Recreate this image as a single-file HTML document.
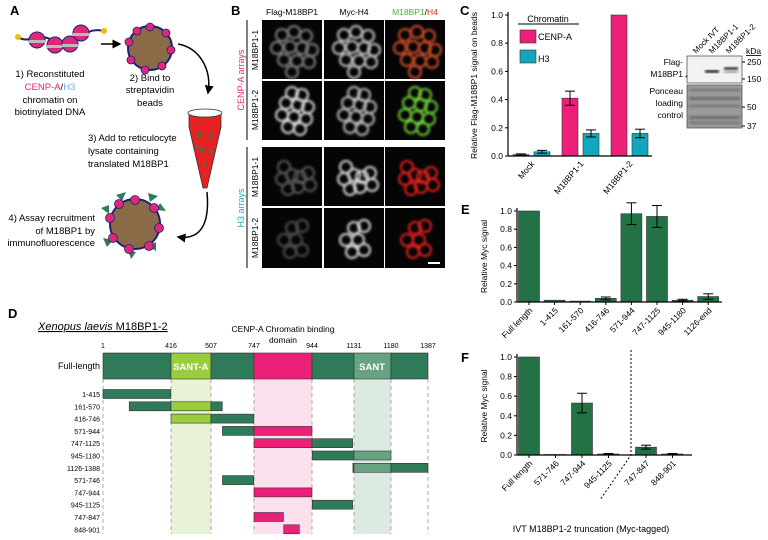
<!DOCTYPE html>
<html><head><meta charset="utf-8"><style>
html,body{margin:0;padding:0;background:#fff;}
svg{display:block;font-family:"Liberation Sans",sans-serif;}
</style></head><body>
<svg id="fig" width="768" height="540" viewBox="0 0 768 540" xmlns="http://www.w3.org/2000/svg">
<defs>
<filter id="blur1"><feGaussianBlur stdDeviation="1.2"/></filter>
<marker id="ah" markerWidth="6" markerHeight="6" refX="5" refY="3" orient="auto"><path d="M0,0 L6,3 L0,6 z" fill="#000"/></marker>
</defs>

<g font-weight="bold" font-size="13">
<text x="10" y="15">A</text><text x="231" y="15">B</text><text x="460" y="15">C</text>
<text x="8" y="318">D</text><text x="461" y="214">E</text><text x="461" y="362">F</text>
</g>

<!-- Panel A -->
<g id="panelA">
 <path d="M18,37 C30,45 40,30 55,42 S80,25 104,31" fill="none" stroke="#1e2270" stroke-width="2"/>
 <circle cx="18" cy="37" r="3" fill="#f5b800"/>
 <circle cx="104" cy="31" r="3" fill="#f5b800"/>
 <g>
  <circle cx="37" cy="40" r="8" fill="#e0287a" stroke="#1e2270"/><rect x="29" y="40" width="16" height="3" fill="#bbb"/>
  <circle cx="55" cy="45" r="8" fill="#e0287a" stroke="#1e2270"/><rect x="47" y="45" width="16" height="3" fill="#bbb"/>
  <circle cx="70" cy="44" r="8" fill="#e0287a" stroke="#1e2270"/><rect x="62" y="44" width="16" height="3" fill="#bbb"/>
  <circle cx="81" cy="33" r="8" fill="#e0287a" stroke="#1e2270"/><rect x="73" y="33" width="16" height="3" fill="#bbb"/>
 </g>
 <line x1="101" y1="44" x2="120" y2="44" stroke="#000" stroke-width="1.5" marker-end="url(#ah)"/>
 <g>
  <circle cx="150" cy="48" r="22" fill="#8b6a48" stroke="#1e2270" stroke-width="2"/>
  <g fill="#e0287a" stroke="#1e2270" stroke-width="0.8">
   <circle cx="150" cy="27" r="4"/><circle cx="166" cy="33" r="4"/><circle cx="171" cy="50" r="4"/><circle cx="162" cy="66" r="4"/><circle cx="145" cy="70" r="4"/><circle cx="131" cy="60" r="4"/><circle cx="129" cy="42" r="4"/><circle cx="137" cy="31" r="4"/>
  </g>
 </g>
 <path d="M178,44 C200,48 212,70 208,93" fill="none" stroke="#000" stroke-width="1.5" marker-end="url(#ah)"/>
 <g font-size="9.5" text-anchor="middle">
  <text x="50" y="77">1) Reconstituted</text>
  <text x="50" y="90"><tspan fill="#e0287a">CENP-A</tspan>/<tspan fill="#7aa8e0">H3</tspan></text>
  <text x="50" y="103">chromatin on</text>
  <text x="50" y="115">biotinylated DNA</text>
 </g>
 <g font-size="9.5" text-anchor="middle">
  <text x="150" y="81">2) Bind to</text><text x="150" y="93">streptavidin</text><text x="150" y="106">beads</text>
 </g>
 <g>
  <path d="M189,113 L221,113 L221,127 L207,188 L203,188 L189,127 Z" fill="#e52222" stroke="#333" stroke-width="0.8"/>
  <ellipse cx="205" cy="113" rx="17" ry="4" fill="#fff" stroke="#333" stroke-width="0.8"/>
  <g fill="#2e7d5a"><path d="M197,132 l6,2 l-5,4z"/><path d="M208,135 l6,-1 l-3,5z"/><path d="M201,147 l5,3 l-6,2z"/><path d="M210,150 l4,3 l-5,1z"/><path d="M203,162 l4,2 l-4,3z"/><path d="M196,145 l4,1 l-3,4z"/></g>
 </g>
 <g font-size="9.5">
  <text x="88" y="141">3) Add to reticulocyte</text><text x="88" y="154">lysate containing</text><text x="88" y="167">translated M18BP1</text>
 </g>
 <path d="M207,192 C210,225 200,240 178,237" fill="none" stroke="#000" stroke-width="1.5" marker-end="url(#ah)"/>
 <g>
  <circle cx="135" cy="224" r="25" fill="#8b6a48" stroke="#1e2270" stroke-width="2"/>
  <g fill="#2e7d5a"><path d="M116,195 l10,-3 l-4,9z"/><path d="M148,193 l10,3 l-8,6z"/><path d="M160,203 l6,8 l-10,-1z"/><path d="M101,208 l8,-3 l0,9z"/><path d="M103,238 l10,2 l-6,7z"/><path d="M148,246 l8,-4 l0,9z"/><path d="M128,250 l8,2 l-5,7z"/></g>
  <g fill="#e0287a" stroke="#1e2270" stroke-width="0.8">
   <circle cx="135" cy="200" r="4.5"/><circle cx="154" cy="208" r="4.5"/><circle cx="159" cy="228" r="4.5"/><circle cx="149" cy="246" r="4.5"/><circle cx="129" cy="249" r="4.5"/><circle cx="113" cy="238" r="4.5"/><circle cx="110" cy="218" r="4.5"/><circle cx="119" cy="204" r="4.5"/>
  </g>
 </g>
 <g font-size="9.5" text-anchor="end">
  <text x="95" y="221">4) Assay recruitment</text><text x="95" y="234">of M18BP1 by</text><text x="95" y="246">immunofluorescence</text>
 </g>
</g>

<!-- Panel B -->
<g id="panelB">
 <g font-size="8.5" text-anchor="middle">
  <text x="292" y="15">Flag-M18BP1</text><text x="354" y="15">Myc-H4</text>
  <text x="415" y="15"><tspan fill="#3cb83c">M18BP1</tspan>/<tspan fill="#e52222">H4</tspan></text>
 </g>
 <line x1="247" y1="20" x2="247" y2="140" stroke="#000"/>
 <line x1="247" y1="147" x2="247" y2="268" stroke="#000"/>
 <text transform="translate(244,80) rotate(-90)" font-size="9" fill="#e0287a" text-anchor="middle">CENP-A arrays</text>
 <text transform="translate(244,208) rotate(-90)" font-size="9" fill="#1ab0c8" text-anchor="middle">H3 arrays</text>
 <g font-size="8.5" text-anchor="middle">
  <text transform="translate(258,50) rotate(-90)">M18BP1-1</text>
  <text transform="translate(258,110) rotate(-90)">M18BP1-2</text>
  <text transform="translate(258,177) rotate(-90)">M18BP1-1</text>
  <text transform="translate(258,238) rotate(-90)">M18BP1-2</text>
 </g>
 <g id="micro"></g>
 <rect x="428" y="262" width="12" height="2" fill="#fff"/>
</g>

<g id="panelC"></g>
<g>
 <rect x="687" y="56" width="55" height="27" fill="#f2f2f2" stroke="#555" stroke-width="0.8"/>
 <rect x="705" y="70" width="14" height="3" fill="#222" filter="url(#blur1)"/>
 <rect x="724" y="67" width="14" height="3" fill="#333" filter="url(#blur1)"/>
 <rect x="724" y="71" width="14" height="2" fill="#888" filter="url(#blur1)"/>
 <rect x="687" y="85" width="55" height="43" fill="#9c9c9c" stroke="#555" stroke-width="0.8"/>
 <g fill="#6a6a6a" filter="url(#blur1)"><rect x="689" y="89" width="51" height="2"/><rect x="689" y="97" width="51" height="3"/><rect x="689" y="105" width="51" height="2"/><rect x="689" y="116" width="51" height="3"/><rect x="689" y="122" width="51" height="2"/></g>
 <g font-size="8" text-anchor="start">
  <text transform="translate(696,54) rotate(-45)">Mock IVT</text>
  <text transform="translate(712,54) rotate(-45)">M18BP1-1</text>
  <text transform="translate(729,54) rotate(-45)">M18BP1-2</text>
 </g>
 <g font-size="8.5" text-anchor="end"><text x="683" y="65">Flag-</text><text x="683" y="77">M18BP1</text><text x="683" y="94">Ponceau</text><text x="683" y="106">loading</text><text x="683" y="118">control</text></g>
 <text x="685" y="80" font-size="7">*</text>
 <g font-size="8.5"><text x="746" y="54" text-decoration="underline">kDa</text><text x="747" y="65">250</text><text x="747" y="82">150</text><text x="747" y="110">50</text><text x="747" y="129">37</text></g>
 <g stroke="#000"><line x1="742" y1="62" x2="745" y2="62"/><line x1="742" y1="79" x2="745" y2="79"/><line x1="742" y1="107" x2="745" y2="107"/><line x1="742" y1="126" x2="745" y2="126"/></g>
</g>

<g id="panelD"></g>
<g id="panelE"></g>
<g id="panelF"></g>
</svg>

<script>
// ---------- Panel C data ----------
const cCategories = ["Mock", "M18BP1-1", "M18BP1-2"];
const cCenpA = [0.01, 0.41, 1.0];
const cCenpAErr = [0.005, 0.05, 0];
const cH3 = [0.03, 0.16, 0.16];
const cH3Err = [0.01, 0.025, 0.03];
const cTicks = [0, 0.2, 0.4, 0.6, 0.8, 1.0];

// ---------- Panel E data ----------
const eCategories = ["Full length","1-415","161-570","416-746","571-944","747-1125","945-1180","1126-end"];
const eValues = [1.0, 0.02, 0.01, 0.04, 0.97, 0.94, 0.02, 0.06];
const eErrors = [0, 0, 0, 0.015, 0.12, 0.12, 0.01, 0.03];
const eTicks = [0, 0.2, 0.4, 0.6, 0.8, 1.0];

// ---------- Panel F data ----------
const fCategories = ["Full length","571-746","747-944","945-1125","747-847","848-901"];
const fValues = [1.0, 0.005, 0.53, 0.01, 0.08, 0.01];
const fErrors = [0, 0, 0.1, 0.005, 0.02, 0.005];
const fTicks = [0, 0.2, 0.4, 0.6, 0.8, 1.0];

// ---------- Panel D data ----------
const dBoundaries = [1, 416, 507, 747, 944, 1131, 1180, 1387];
const dConstructs = ["1-415","161-570","416-746","571-944","747-1125","945-1180","1126-1388","571-746","747-944","945-1125","747-847","848-901"];
const dStarts = [1,161,416,571,747,945,1126,571,747,945,747,848];
const dEnds = [415,570,746,944,1125,1180,1388,746,944,1125,847,901];

const NS = "http://www.w3.org/2000/svg";
function mk(parent, tag, attrs, text) {
  const el = document.createElementNS(NS, tag);
  for (const k in attrs) el.setAttribute(k, attrs[k]);
  if (text !== undefined) el.textContent = text;
  parent.appendChild(el);
  return el;
}

(function(){
  const g = document.getElementById("micro");
  const cols = [[262,322],[324,384],[385,445]];
  const rows = [[20,79],[81,140],[147,206],[208,268]];
  const bright = [[0.45,0.8],[0.9,0.75],[0.25,0.9],[0.2,0.9]];
  const ringSets = [
    [[20,15],[32,12],[44,16],[15,28],[28,27],[40,28],[50,30],[22,40],[35,41],[47,42],[30,52]],
    [[30,12],[40,14],[24,22],[36,24],[46,26],[20,34],[32,36],[44,38],[26,46],[38,48]],
    [[22,20],[30,28],[20,32],[38,30],[46,26],[48,38],[36,40],[26,42]],
    [[30,20],[40,18],[22,32],[34,32],[40,42],[28,44]]
  ];
  rows.forEach((r,ri)=>{
    cols.forEach((c,ci)=>{
      const cell = mk(g,"g",{});
      
      
      mk(cell,"rect",{x:c[0],y:r[0],width:c[1]-c[0],height:r[1]-r[0],fill:"#050505"});
      let col;
      if (ci<2){ const b=bright[ri][ci]; const v=Math.round(40+b*200); col=`rgb(${v},${v},${v})`; }
      else { col = ri===1 ? "#6fd23a" : (ri===0 ? "#d2502a" : "#e8231e"); }
      const rg = mk(cell,"g",{filter:"url(#blur1)"});
      ringSets[ri].forEach(p=>{
        mk(rg,"circle",{cx:c[0]+p[0]*(c[1]-c[0])/60,cy:r[0]+p[1],r:6,fill:"none",stroke:col,"stroke-width":2});
      });
    });
  });
})();

function axisY(g, x0, y0, y1, ticks, title, titleX) {
  const sy = v => y0 - v*(y0-y1);
  mk(g,"line",{x1:x0,y1:y1-3,x2:x0,y2:y0,stroke:"#000","stroke-width":1.2});
  ticks.forEach(t=>{
    mk(g,"line",{x1:x0-3,y1:sy(t),x2:x0,y2:sy(t),stroke:"#000"});
    mk(g,"text",{x:x0-5,y:sy(t)+3,"font-size":8.5,"text-anchor":"end"},t.toFixed(1));
  });
  const tt = mk(g,"text",{transform:`translate(${titleX},${(y0+y1)/2}) rotate(-90)`,"font-size":8.5,"text-anchor":"middle"},title);
  
  
  return sy;
}
function errBar(g, cx, top, err, sy, w){
  if (err<=0) return;
  const a = sy(top+err), b = sy(Math.max(0,top-err));
  mk(g,"line",{x1:cx,y1:a,x2:cx,y2:b,stroke:"#000"});
  mk(g,"line",{x1:cx-w,y1:a,x2:cx+w,y2:a,stroke:"#000"});
  mk(g,"line",{x1:cx-w,y1:b,x2:cx+w,y2:b,stroke:"#000"});
}

// ---------- Panel C ----------
(function(){
  const g = document.getElementById("panelC");
  const x0=508, y0=156, y1=15;
  const sy = axisY(g,x0,y0,y1,cTicks,"Relative Flag-M18BP1 signal on beads",477);
  const groupW = 49, start = 531, bw = 16;
  cCategories.forEach((cat,i)=>{
    const gx = start + i*groupW;
    const b1 = mk(g,"rect",{x:gx-bw-2,y:sy(cCenpA[i]),width:bw,height:y0-sy(cCenpA[i]),fill:"#ec2079",stroke:"#333","stroke-width":0.6});
    
    
    const b2 = mk(g,"rect",{x:gx+3,y:sy(cH3[i]),width:bw,height:y0-sy(cH3[i]),fill:"#13a7bf",stroke:"#333","stroke-width":0.6});
    
    
    errBar(g,gx-2-bw/2,cCenpA[i],cCenpAErr[i],sy,5);
    errBar(g,gx+3+bw/2,cH3[i],cH3Err[i],sy,5);
    const t = mk(g,"text",{transform:`translate(${gx+4},${y0+8}) rotate(-50)`,"font-size":8.5,"text-anchor":"end"},cat);
    
    
  });
  mk(g,"line",{x1:x0,y1:y0,x2:652,y2:y0,stroke:"#000","stroke-width":1.2});
  const lg = mk(g,"g",{});
  
  
  mk(lg,"text",{x:548,y:22,"font-size":9,"text-anchor":"middle"},"Chromatin");
  mk(lg,"line",{x1:518,y1:24,x2:579,y2:24,stroke:"#000"});
  mk(lg,"rect",{x:520,y:30,width:16,height:13,fill:"#ec2079",stroke:"#333","stroke-width":0.6});
  mk(lg,"text",{x:538,y:40,"font-size":9},"CENP-A");
  mk(lg,"rect",{x:520,y:50,width:16,height:13,fill:"#13a7bf",stroke:"#333","stroke-width":0.6});
  mk(lg,"text",{x:538,y:62,"font-size":9},"H3");
})();

// ---------- Panel E ----------
(function(){
  const g = document.getElementById("panelE");
  const x0=517, y0=302, y1=211;
  const sy = axisY(g,x0,y0,y1,eTicks,"Relative Myc signal",487);
  const step = 25.6, first = 529, bw = 21;
  eCategories.forEach((cat,i)=>{
    const cx = first + i*step;
    const b = mk(g,"rect",{x:cx-bw/2,y:sy(eValues[i]),width:bw,height:y0-sy(eValues[i]),fill:"#237245",stroke:"#333","stroke-width":0.6});
    
    
    errBar(g,cx,eValues[i],eErrors[i],sy,5);
    mk(g,"line",{x1:cx,y1:y0,x2:cx,y2:y0+3,stroke:"#000"});
    const t = mk(g,"text",{transform:`translate(${cx+4},${y0+9}) rotate(-45)`,"font-size":8.5,"text-anchor":"end"},cat);
    
    
  });
  mk(g,"line",{x1:x0,y1:y0,x2:722,y2:y0,stroke:"#000","stroke-width":1.2});
})();

// ---------- Panel F ----------
(function(){
  const g = document.getElementById("panelF");
  const x0=517, y0=455, y1=357;
  const sy = axisY(g,x0,y0,y1,fTicks,"Relative Myc signal",487);
  const step = 26.5, first = 529, bw = 21, gapAfter = 3, gap = 11;
  fCategories.forEach((cat,i)=>{
    const cx = first + i*step + (i>gapAfter?gap:0);
    const b = mk(g,"rect",{x:cx-bw/2,y:sy(fValues[i]),width:bw,height:y0-sy(fValues[i]),fill:"#237245",stroke:"#333","stroke-width":0.6});
    
    
    errBar(g,cx,fValues[i],fErrors[i],sy,5);
    mk(g,"line",{x1:cx,y1:y0,x2:cx,y2:y0+3,stroke:"#000"});
    const t = mk(g,"text",{transform:`translate(${cx+4},${y0+9}) rotate(-45)`,"font-size":8.5,"text-anchor":"end"},cat);
    
    
  });
  mk(g,"line",{x1:x0,y1:y0,x2:692,y2:y0,stroke:"#000","stroke-width":1.2});
  const dl = mk(g,"path",{d:"M631,350 L631,455 L600,500",fill:"none",stroke:"#000","stroke-dasharray":"2,2"});
  
  
  const xt = mk(g,"text",{x:591,y:532,"font-size":9,"text-anchor":"middle"},"IVT M18BP1-2 truncation (Myc-tagged)");
  
  
})();

// ---------- Panel D ----------
(function(){
  const g = document.getElementById("panelD");
  const anchorX = [103,171,211,254,312,354,391,428]; // layout (non-linear drawing scale)
  const px = r => {
    for (let k=0;k<dBoundaries.length-1;k++){
      if (r<=dBoundaries[k+1] || k===dBoundaries.length-2){
        const a=dBoundaries[k], b=dBoundaries[k+1];
        return Math.min(anchorX[7], anchorX[k] + (r-a)*(anchorX[k+1]-anchorX[k])/(b-a));
      }
    }
  };
  const top=353, bot=379, rowY0=394, rowStep=12.3, bh=9, endY=534;
  [[416,507,"#e8f2d6"],[747,944,"#fce0ee"],[1131,1180,"#dce9e1"]].forEach(s=>{
    mk(g,"rect",{x:px(s[0]),y:bot,width:px(s[1])-px(s[0]),height:endY-bot,fill:s[2]});
  });
  dBoundaries.forEach(b=>{
    mk(g,"line",{x1:px(b),y1:bot,x2:px(b),y2:endY,stroke:"#999","stroke-dasharray":"4,3","stroke-width":0.8});
    const t = mk(g,"text",{x:px(b),y:348,"font-size":7,"text-anchor":"middle"},String(b));
    
    
  });
  const domColor = (a,b)=>{
    if (a>=416 && b<=507) return "#9acd3c";
    if (a>=747 && b<=944) return "#ec2079";
    if (a>=1131 && b<=1180) return "#67a383";
    return "#2f7a58";
  };
  const cuts = dBoundaries;
  function seg(parent,y,h,a,b){
    const pts=[a]; cuts.forEach(c=>{ if(c>a && c<b) pts.push(c); }); pts.push(b);
    for(let k=0;k<pts.length-1;k++){
      mk(parent,"rect",{x:px(pts[k]),y:y,width:px(pts[k+1])-px(pts[k]),height:h,fill:domColor(pts[k],pts[k+1]),stroke:"#333","stroke-width":0.6});
    }
  }
  const fl = mk(g,"g",{});
  
  
  seg(fl,top,bot-top,1,1387);
  mk(g,"text",{x:px(461),y:370,"font-size":9.5,"font-weight":"bold",fill:"#fff","text-anchor":"middle"},"SANT-A");
  mk(g,"text",{x:px(1155),y:370,"font-size":9.5,"font-weight":"bold",fill:"#fff","text-anchor":"middle"},"SANT");
  mk(g,"text",{x:100,y:369,"font-size":9,"text-anchor":"end"},"Full-length");
  dConstructs.forEach((lab,i)=>{
    const y = rowY0 + i*rowStep;
    const rg = mk(g,"g",{});
    
    
    seg(rg,y-bh/2,bh,dStarts[i],Math.min(dEnds[i],1387));
    mk(rg,"text",{x:100,y:y+3,"font-size":7,"text-anchor":"end"},lab);
  });
  const tl = mk(g,"text",{x:38,y:330,"font-size":11},"");
  
  
  mk(tl,"tspan",{"font-style":"italic","text-decoration":"underline"},"Xenopus laevis");
  mk(tl,"tspan",{"text-decoration":"underline"}," M18BP1-2");
  mk(g,"text",{x:283,y:332,"font-size":8.5,"text-anchor":"middle"},"CENP-A Chromatin binding");
  mk(g,"text",{x:283,y:343,"font-size":8.5,"text-anchor":"middle"},"domain");
})();
</script>
</body></html>
